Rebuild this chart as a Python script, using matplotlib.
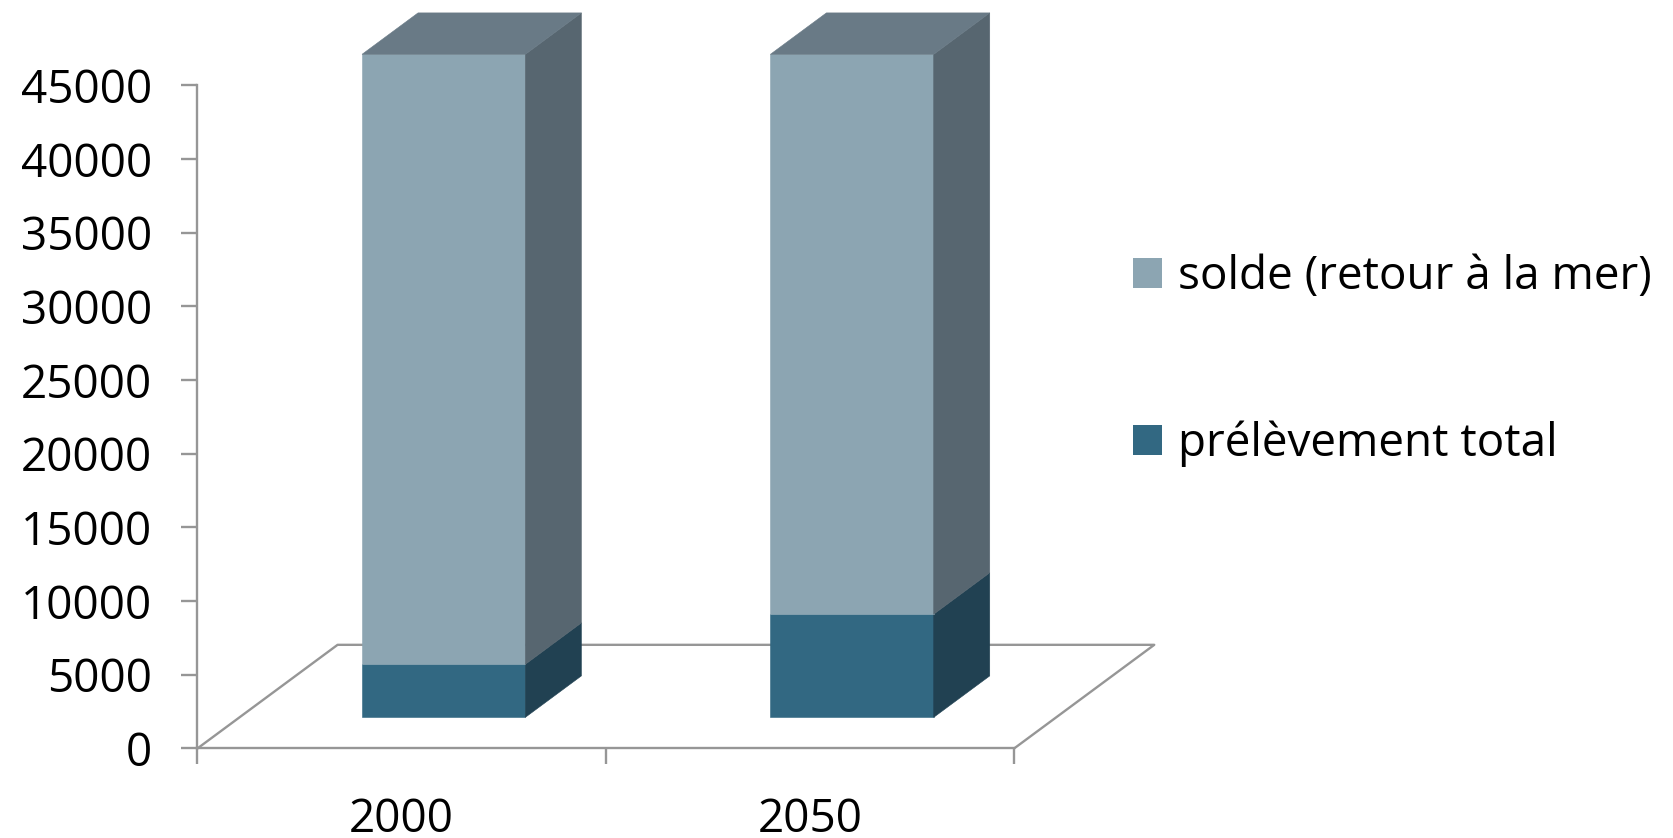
import matplotlib
matplotlib.use("Agg")
import matplotlib.pyplot as plt
from matplotlib.patches import Polygon, Patch

# data (volumes)
years = ['2000', '2050']
prelevement = [3600, 7000]
solde = [41400, 38000]
series_names = ['prélèvement total', 'solde (retour à la mer)']
yticks = list(range(0, 45001, 5000))

# colours: front face, side face, top face
prel_colors = ('#326882', '#214152', '#2b5a70')
solde_colors = ('#8ca5b2', '#576670', '#697a86')
axis_gray = '#969696'

# oblique "3d" look, expressed in data units
DEPTH_X = 0.343      # category units
DEPTH_Y = 7030       # value units
BAR_W = 0.4
BAR_FRONT = 0.3
BAR_BACK = 0.7

plt.rcParams['font.family'] = ['Open Sans', 'DejaVu Sans']
FONTSIZE = 33

fig = plt.figure(figsize=(16.74, 8.38), dpi=100)
ax = fig.add_axes([197.5 / 1674, 1 - 748.4 / 838, (1014.2 - 197.5) / 1674, (748.4 - 85.4) / 838])
ax.set_xlim(0, 2)
ax.set_ylim(0, 45000)

# floor of the chart
ax.plot([0, DEPTH_X, 2 + DEPTH_X, 2], [0, DEPTH_Y, DEPTH_Y, 0],
        color=axis_gray, lw=1.7, clip_on=False, zorder=1)


def face(pts, color):
    ax.add_patch(Polygon(pts, closed=True, facecolor=color, edgecolor=color,
                         lw=0.4, clip_on=False, zorder=3))


bdx = (BAR_BACK - BAR_FRONT) * DEPTH_X
bdy = (BAR_BACK - BAR_FRONT) * DEPTH_Y
for i in range(len(years)):
    x0 = i + 0.5 - BAR_W / 2 + BAR_FRONT * DEPTH_X
    x1 = x0 + BAR_W
    y = BAR_FRONT * DEPTH_Y
    stack = [(prelevement[i], prel_colors), (solde[i], solde_colors)]
    for k, (val, cols) in enumerate(stack):
        y0, y1 = y, y + val
        face([(x0, y0), (x1, y0), (x1, y1), (x0, y1)], cols[0])
        face([(x1, y0), (x1 + bdx, y0 + bdy), (x1 + bdx, y1 + bdy), (x1, y1)], cols[1])
        if k == len(stack) - 1:
            face([(x0, y1), (x1, y1), (x1 + bdx, y1 + bdy), (x0 + bdx, y1 + bdy)], cols[2])
        y = y1

# axes
for s in ['top', 'right']:
    ax.spines[s].set_visible(False)
for s in ['left', 'bottom']:
    ax.spines[s].set_color(axis_gray)
    ax.spines[s].set_linewidth(1.7)

ax.set_yticks(yticks)
ax.set_yticklabels([str(v) for v in yticks])
ax.tick_params(axis='y', direction='out', length=11.5, width=1.7, color=axis_gray,
               pad=21, labelsize=FONTSIZE)
ax.set_xticks([0, 1, 2])
ax.set_xticklabels([])
ax.set_xticks([0.5, 1.5], minor=True)
ax.set_xticklabels(years, minor=True)
ax.tick_params(axis='x', which='major', direction='out', length=11.5, width=1.7, color=axis_gray)
ax.tick_params(axis='x', which='minor', length=0, pad=35, labelsize=FONTSIZE)

handles = [Patch(facecolor=solde_colors[0], label=series_names[1]),
           Patch(facecolor=prel_colors[0], label=series_names[0])]
ax.legend(handles=handles, loc='center left', bbox_to_anchor=(1133 / 1674, 1 - 360.5 / 838),
          bbox_transform=fig.transFigure, frameon=False, borderpad=0, borderaxespad=0,
          handlelength=0.63, handleheight=0.63, handletextpad=0.35, labelspacing=2.63,
          fontsize=FONTSIZE)

fig.savefig('out.png', dpi=100)
